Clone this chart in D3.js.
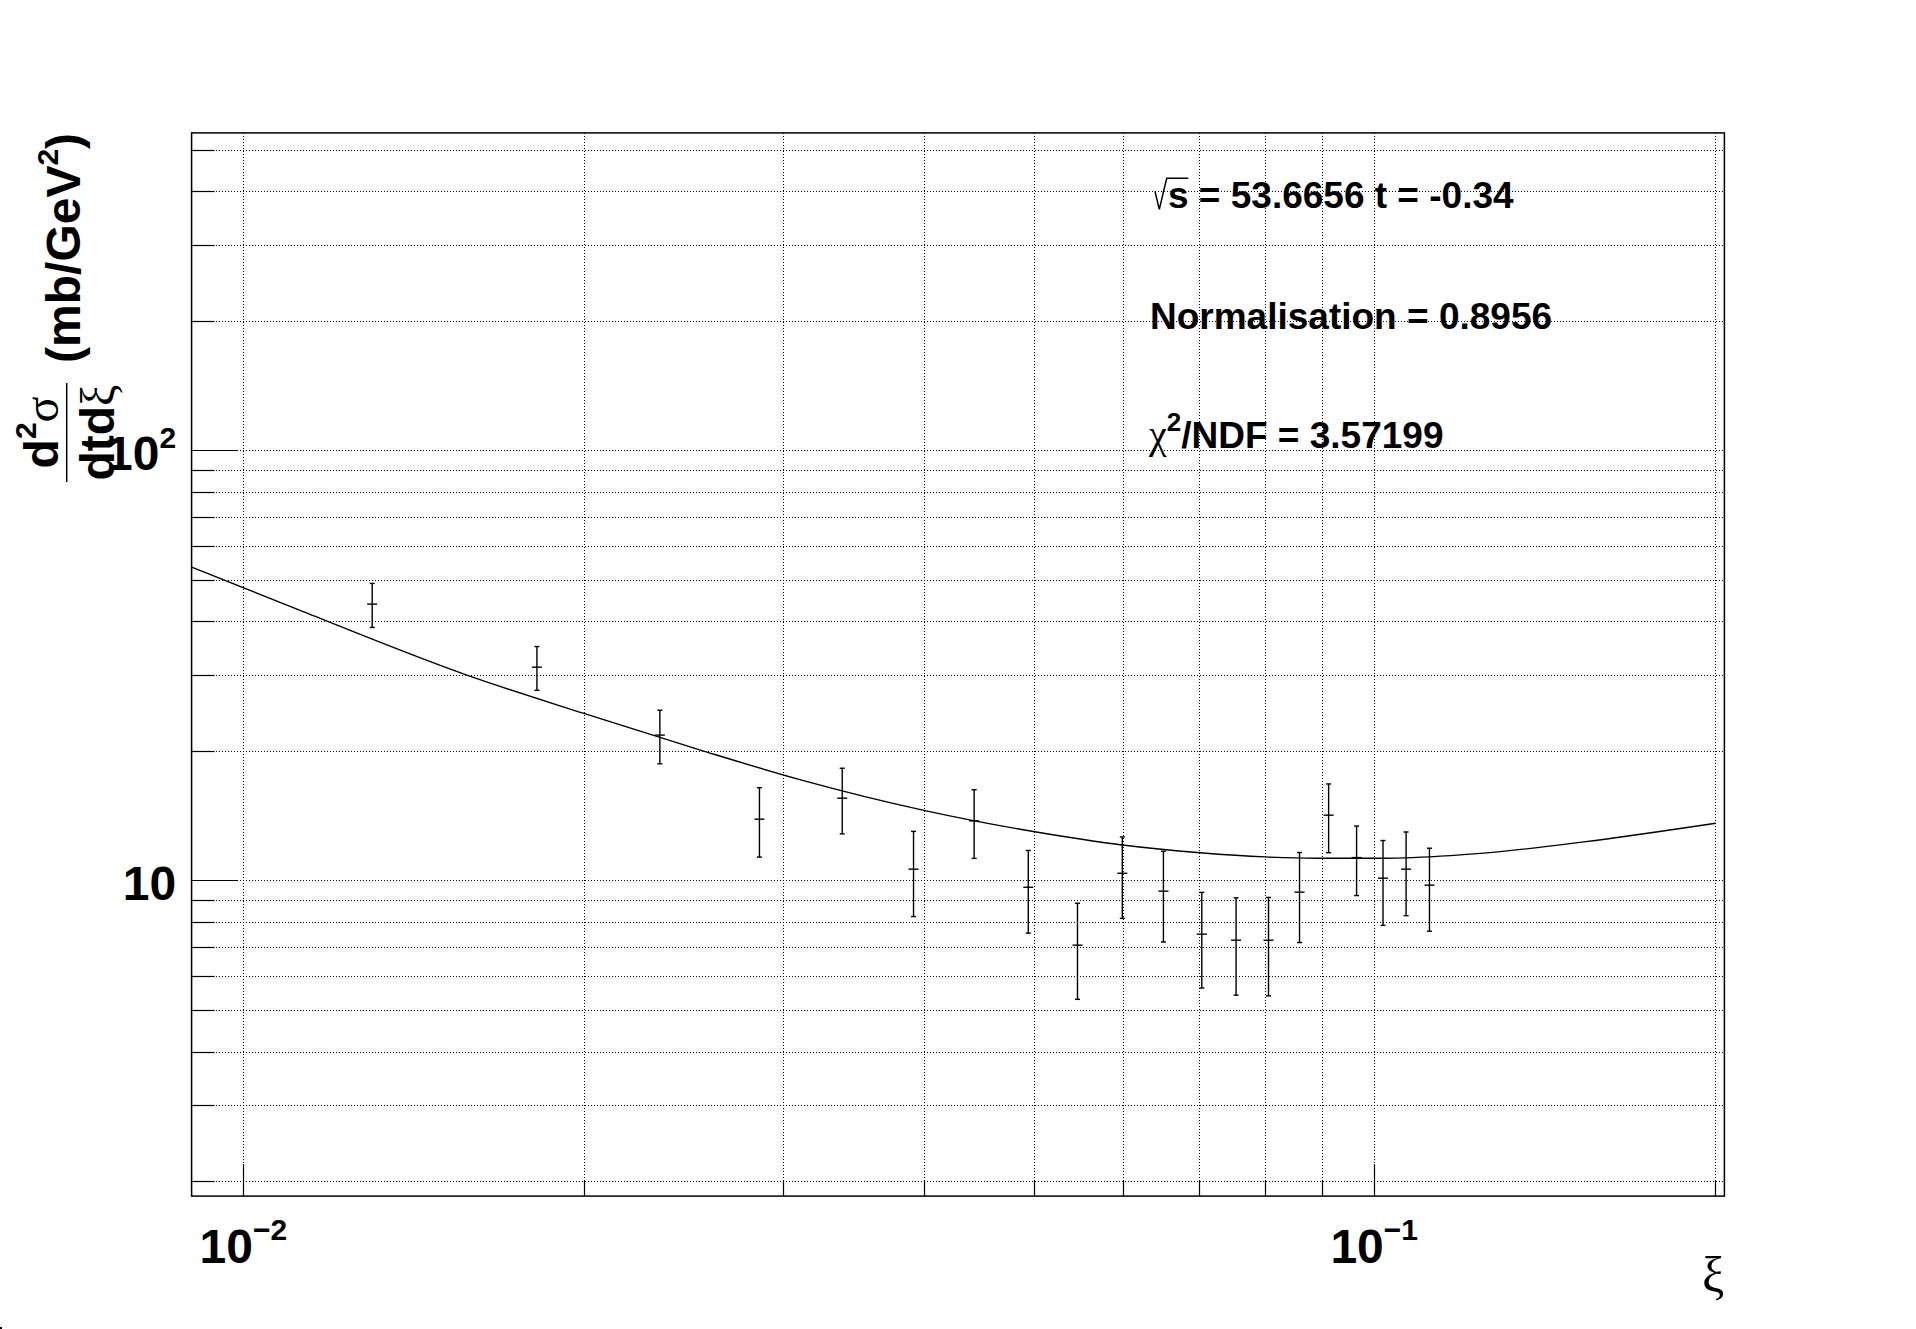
<!DOCTYPE html>
<html>
<head>
<meta charset="utf-8">
<script src="https://cdn.jsdelivr.net/npm/d3@7"></script>
<style>
  body { margin: 0; background: #fff; }
  svg { display: block; }
  text { font-family: "Liberation Sans", Arial, Helvetica, sans-serif; font-weight: bold; fill: #000; }
  .greek { font-family: "Liberation Serif", "DejaVu Serif", serif; font-weight: normal; }
</style>
</head>
<body>
<div id="d3-container"></div>
<script>
/**
 * DATA
 * */
// measured points: xi, d2sigma/dtdxi and its error
const xiValues = [0.01300, 0.01818, 0.02335, 0.02860, 0.03385, 0.03914, 0.04428, 0.04944, 0.05465, 0.05987,
                  0.06510, 0.07039, 0.07548, 0.08063, 0.08589, 0.09113, 0.09647, 0.1018, 0.1067, 0.1119];
const sigmaValues = [43.89, 31.32, 21.77, 13.88, 15.53, 10.62, 13.75, 9.64, 7.07, 10.39,
                     9.44, 7.50, 7.26, 7.26, 9.39, 14.18, 11.30, 10.12, 10.62, 9.75];
const sigmaErrors = [5.15, 3.65, 3.1, 2.55, 2.7, 2.38, 2.5, 2.1, 1.78, 2.23,
                     2.25, 1.88, 1.85, 1.87, 2.22, 2.58, 2.08, 2.26, 2.34, 2.13];

// fitted curve, sampled along the drawn line
const fitXi = [0.00899, 0.01121, 0.01574, 0.01997, 0.02532, 0.03105, 0.04006, 0.04995, 0.05987,
               0.07015, 0.08009, 0.08896, 0.1019, 0.1168, 0.125, 0.1532, 0.2004];
const fitSigma = [53.6, 42.5, 30.06, 24.48, 20.12, 17.15, 14.53, 12.99, 12.09,
                  11.60, 11.34, 11.26, 11.26, 11.42, 11.57, 12.29, 13.58];

// axis ranges
const xDomain = [0.009, 0.204];
const yDomain = [1.845, 547];

// fit info
const sqrtS = "53.6656", tValue = "-0.34", normalisation = "0.8956", chi2ndf = "3.57199";

/**
 * CONSTANTS
 * */
const width = 1916,
    height = 1329,
    margin = { top: 132.9, bottom: 132.9, left: 191.6, right: 191.6 };

const svg = d3
    .select("#d3-container")
    .append("svg")
    .attr("width", width)
    .attr("height", height);

const xScale = d3.scaleLog().domain(xDomain).range([margin.left, width - margin.right]);
const yScale = d3.scaleLog().domain(yDomain).range([height - margin.bottom, margin.top]);

const isMajor = t => Math.abs(Math.log10(t) - Math.round(Math.log10(t))) < 1e-9;
const xTicks = xScale.ticks().filter(t => xScale(t) > margin.left + 2 && xScale(t) < width - margin.right - 2);
const yTicks = yScale.ticks().filter(t => yScale(t) < height - margin.bottom - 2 && yScale(t) > margin.top + 2);

const x0 = margin.left, x1 = width - margin.right, y0 = margin.top, y1 = height - margin.bottom;

// grid (dotted, one line per tick)
svg.append("g")
    .selectAll("line")
    .data(xTicks)
    .join("line")
    .attr("x1", d => Math.round(xScale(d)) + 0.5)
    .attr("x2", d => Math.round(xScale(d)) + 0.5)
    .attr("y1", y0)
    .attr("y2", y1)
    .attr("stroke", "#000")
    .attr("stroke-width", 1)
    .attr("stroke-dasharray", "1,2")
    .attr("shape-rendering", "crispEdges");

svg.append("g")
    .selectAll("line")
    .data(yTicks)
    .join("line")
    .attr("x1", x0)
    .attr("x2", x1)
    .attr("y1", d => Math.round(yScale(d)) + 0.5)
    .attr("y2", d => Math.round(yScale(d)) + 0.5)
    .attr("stroke", "#000")
    .attr("stroke-width", 1)
    .attr("stroke-dasharray", "1,2")
    .attr("shape-rendering", "crispEdges");

// ticks
svg.append("g")
    .selectAll("line")
    .data(xTicks)
    .join("line")
    .attr("x1", d => Math.round(xScale(d)) + 0.5)
    .attr("x2", d => Math.round(xScale(d)) + 0.5)
    .attr("y1", y1)
    .attr("y2", d => y1 - (isMajor(d) ? 32 : 16))
    .attr("stroke", "#000")
    .attr("stroke-width", 1.2);

svg.append("g")
    .selectAll("line")
    .data(yTicks)
    .join("line")
    .attr("x1", x0)
    .attr("x2", d => x0 + (isMajor(d) ? 46 : 23))
    .attr("y1", d => Math.round(yScale(d)) + 0.5)
    .attr("y2", d => Math.round(yScale(d)) + 0.5)
    .attr("stroke", "#000")
    .attr("stroke-width", 1.2);

// frame
svg.append("rect")
    .attr("x", x0)
    .attr("y", y0)
    .attr("width", x1 - x0)
    .attr("height", y1 - y0)
    .attr("fill", "none")
    .attr("stroke", "#000")
    .attr("stroke-width", 1.5);

// tick labels: 10^n
const xLabels = svg.append("g")
    .selectAll("text")
    .data(xTicks.filter(isMajor))
    .join("text")
    .attr("x", d => xScale(d))
    .attr("y", y1 + 66.6)
    .attr("text-anchor", "middle")
    .attr("font-size", 48);
xLabels.append("tspan").text("10");
xLabels.append("tspan")
    .attr("font-size", 30)
    .attr("dy", -23)
    .text(d => "\u2212" + Math.abs(Math.round(Math.log10(d))));

const yLabels = svg.append("g")
    .selectAll("text")
    .data(yTicks.filter(isMajor))
    .join("text")
    .attr("x", x0 - 15.5)
    .attr("y", d => yScale(d) + 19.5)
    .attr("text-anchor", "end")
    .attr("font-size", 48);
yLabels.append("tspan").text("10");
yLabels.filter(d => Math.round(Math.log10(d)) > 1)
    .append("tspan")
    .attr("font-size", 30)
    .attr("dy", -22)
    .text(d => Math.round(Math.log10(d)));

// x title
svg.append("text")
    .attr("class", "greek")
    .attr("x", x1)
    .attr("y", y1 + 96)
    .attr("text-anchor", "end")
    .attr("font-size", 50)
    .text("ξ");

// y title (fraction + units), rotated
const yTitle = svg.append("g").attr("transform", "rotate(-90)");
const fracMid = -(y0 + 299.6), fracHalf = 49.5;
yTitle.append("line")
    .attr("x1", fracMid - fracHalf)
    .attr("x2", fracMid + fracHalf)
    .attr("y1", 66.7)
    .attr("y2", 66.7)
    .attr("stroke", "#000")
    .attr("stroke-width", 1.5);
const num = yTitle.append("text")
    .attr("x", fracMid)
    .attr("y", 58)
    .attr("text-anchor", "middle")
    .attr("font-size", 48);
num.append("tspan").text("d");
num.append("tspan").attr("font-size", 30).attr("dy", -22).text("2");
num.append("tspan").attr("class", "greek").attr("dy", 22).text("σ");
const den = yTitle.append("text")
    .attr("x", fracMid)
    .attr("y", 114)
    .attr("text-anchor", "middle")
    .attr("font-size", 48);
den.append("tspan").text("dtd");
den.append("tspan").attr("class", "greek").text("ξ");
const unit = yTitle.append("text")
    .attr("x", -y0)
    .attr("y", 80)
    .attr("text-anchor", "end")
    .attr("font-size", 48);
unit.append("tspan").text("(mb/GeV");
unit.append("tspan").attr("font-size", 30).attr("dy", -22).text("2");
unit.append("tspan").attr("dy", 22).text(")");

// fitted curve
const fitLine = d3.line()
    .x(d => xScale(d[0]))
    .y(d => yScale(d[1]))
    .curve(d3.curveMonotoneX);
svg.append("path")
    .datum(d3.zip(fitXi, fitSigma))
    .attr("d", fitLine)
    .attr("fill", "none")
    .attr("stroke", "#000")
    .attr("stroke-width", 1.4);

// data points with error bars
const points = d3.zip(xiValues, sigmaValues, sigmaErrors);
const pts = svg.append("g")
    .selectAll("g")
    .data(points)
    .join("g")
    .attr("stroke", "#000")
    .attr("stroke-width", 1.4);
pts.append("line")
    .attr("x1", d => xScale(d[0]))
    .attr("x2", d => xScale(d[0]))
    .attr("y1", d => yScale(d[1] + d[2]))
    .attr("y2", d => yScale(d[1] - d[2]));
pts.append("line")
    .attr("x1", d => xScale(d[0]) - 5)
    .attr("x2", d => xScale(d[0]) + 5)
    .attr("y1", d => yScale(d[1]))
    .attr("y2", d => yScale(d[1]));
[1, -1].forEach(s => {
    pts.append("line")
        .attr("x1", d => xScale(d[0]) - 2.5)
        .attr("x2", d => xScale(d[0]) + 2.5)
        .attr("y1", d => yScale(d[1] + s * d[2]))
        .attr("y2", d => yScale(d[1] + s * d[2]));
});

// fit info text
const infoX = 1150;
const info = svg.append("g").attr("font-size", 37);
// sqrt(s) with a drawn radical
const rx = infoX + 5, rb = 208.3;
info.append("path")
    .attr("d", `M${rx},${rb - 17} L${rx + 4.3},${rb + 1} L${rx + 11.7},${rb - 30} L${rx + 33.3},${rb - 30}`)
    .attr("fill", "none")
    .attr("stroke", "#000")
    .attr("stroke-width", 1.5);
info.append("text")
    .attr("x", rx + 13)
    .attr("y", rb)
    .attr("font-size", 37)
    .text(`s = ${sqrtS} t = ${tValue}`);
info.append("text")
    .attr("x", infoX)
    .attr("y", 329)
    .attr("font-size", 37)
    .text(`Normalisation = ${normalisation}`);
const chi = info.append("text")
    .attr("x", infoX - 1)
    .attr("y", 448.3)
    .attr("font-size", 37);
chi.append("tspan").attr("class", "greek").attr("font-size", 40).text("χ");
chi.append("tspan").attr("font-size", 26).attr("dy", -17).text("2");
chi.append("tspan").attr("dy", 17).text(`/NDF = ${chi2ndf}`);

// small mark in the canvas corner
svg.append("rect").attr("x", 0).attr("y", height - 2).attr("width", 2).attr("height", 2).attr("fill", "#000");
</script>
</body>
</html>
